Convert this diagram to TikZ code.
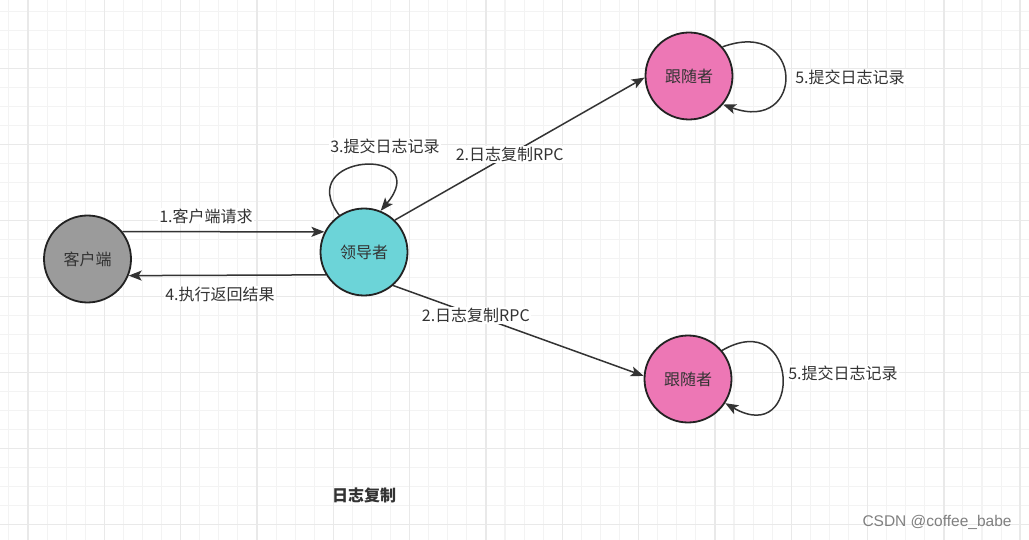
\documentclass[tikz,border=0pt]{standalone}
\usepackage{fontspec}
\setmainfont{Noto Sans CJK SC}
\newfontfamily\markfont{Liberation Sans}
\usetikzlibrary{arrows.meta}
\definecolor{inkdark}{RGB}{51,51,51}
\definecolor{rimdark}{RGB}{34,34,34}
\definecolor{clientgray}{RGB}{155,155,155}
\definecolor{leadercyan}{RGB}{108,212,216}
\definecolor{followerpink}{RGB}{237,119,181}
\definecolor{gridminor}{RGB}{243,243,243}
\definecolor{gridmajor}{RGB}{233,233,233}
\tikzset{
  state/.style={circle, draw=rimdark, line width=1.8pt, minimum size=87pt, inner sep=0pt,
    text=inkdark, font=\fontsize{16}{19}\selectfont},
  flow/.style={draw=inkdark, line width=1.5pt, -{Stealth[length=13pt,width=10pt,inset=3pt]}},
  lbl/.style={fill=white, inner sep=1pt, text=inkdark, font=\fontsize{16}{19}\selectfont},
  minorline/.style={draw=gridminor, line width=1.1pt},
  majorline/.style={draw=gridmajor, line width=1.4pt}
}
\begin{document}
\begin{tikzpicture}[x=1pt,y=1pt,yscale=-1,xscale=1]
                \useasboundingbox (0,0) rectangle (1029,540);
                \fill[white] (0,0) rectangle (1029,540);
                %Grid
                \foreach \i in {0,...,53} \draw[minorline] ({8.93+19.08*\i},0) -- ++(0,540);
                \foreach \j in {0,...,28} \draw[minorline] (0,{11.3+19*\j}) -- ++(1029,0);
                \foreach \i in {0,...,13} \draw[majorline] ({28+76.32*\i},0) -- ++(0,540);
                \foreach \j in {0,...,6} \draw[majorline] (0,{68.3+76*\j}) -- ++(1029,0);

                %Shape: Circles
                \node[state, fill=clientgray] (client) at (87.5,259) {客户端};
                \node[state, fill=leadercyan] (leader) at (364,252) {领导者};
                \node[state, fill=followerpink] (ftop) at (689,76) {跟随者};
                \node[state, fill=followerpink] (fbot) at (688,379) {跟随者};

                %Straight Lines
                \draw[flow] (client.38) -- (leader.153);
                \draw[flow] (leader.211) -- (client.-22);
                \draw[flow] (leader.46) -- node[lbl, pos=0.46] (rpctop) {2.日志复制RPC} (ftop.182);
                \draw[flow] (leader.-49) -- node[lbl, pos=0.33] (rpcbot) {2.日志复制RPC} (fbot.176);

                %Curve Lines
                \draw[flow] (leader.124) .. controls +(-127:78) and +(-50:85) .. (leader.68);
                \draw[flow] (ftop.41) .. controls +(-20:88) and +(20:88) .. (ftop.-40);
                \draw[flow] (fbot.40) .. controls +(-30:90) and +(30:90) .. (fbot.-33);

                % Text Node
                \node[lbl] (req) at (206,216) {1.客户端请求};
                % Text Node
                \node[lbl] (ret) at (220,294) {4.执行返回结果};
                % Text Node
                \node[lbl] (commitl) at (385,146) {3.提交日志记录};
                % Text Node
                \node[lbl] (committ) at (850,77) {5.提交日志记录};
                % Text Node
                \node[lbl] (commitb) at (843,373) {5.提交日志记录};
                % Text Node
                \node[text=inkdark, font=\fontsize{16}{19}\selectfont\bfseries] (title) at (364,495) {日志复制};
                % Text Node
                \node[text=gray, font=\markfont\fontsize{15.5}{18}\selectfont] (mark) at (937,522) {CSDN @coffee\_babe};
\end{tikzpicture}
\end{document}
